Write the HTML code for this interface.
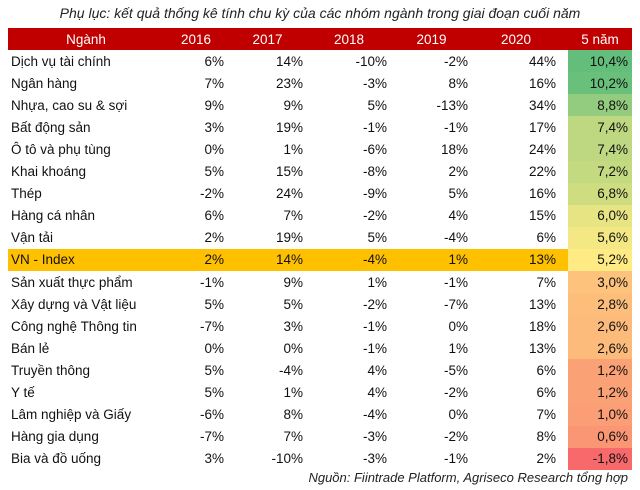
<!DOCTYPE html>
<html><head><meta charset="utf-8"><style>
body{margin:0;width:640px;height:490px;background:#fff;font-family:"Liberation Sans","DejaVu Sans",sans-serif;position:relative;overflow:hidden}
.title{position:absolute;top:5px;left:0;width:640px;text-align:center;font-style:italic;font-size:14px;color:#222}
table{position:absolute;top:28px;left:8px;border-collapse:collapse;font-size:13.5px;color:#111;table-layout:fixed;width:624px}
td{height:22.1px;padding:0 4px 0 0;text-align:right;white-space:nowrap;overflow:visible}
td:first-child{text-align:left;padding-left:3px}
tr.h td{background:#C00000;color:#fff;text-align:center;padding:0}
tr.vn td{background:#FFC000}
.src{position:absolute;top:470px;right:12px;font-style:italic;font-size:13px;color:#222}
</style></head><body>
<div class="title">Phụ lục: kết quả thống kê tính chu kỳ của các nhóm ngành trong giai đoạn cuối năm</div>
<table>
<colgroup><col style="width:156px"><col style="width:64px"><col style="width:79px"><col style="width:84px"><col style="width:81px"><col style="width:88px"><col style="width:8px"><col style="width:64px"></colgroup>
<tr class="h"><td style="text-align:center">Ngành</td><td>2016</td><td>2017</td><td>2018</td><td>2019</td><td>2020</td><td></td><td>5 năm</td></tr>
<tr><td>Dịch vụ tài chính</td><td>6%</td><td>14%</td><td>-10%</td><td>-2%</td><td>44%</td><td></td><td style="background:rgb(99,190,123)">10,4%</td></tr>
<tr><td>Ngân hàng</td><td>7%</td><td>23%</td><td>-3%</td><td>8%</td><td>16%</td><td></td><td style="background:rgb(105,192,123)">10,2%</td></tr>
<tr><td>Nhựa, cao su &amp; sợi</td><td>9%</td><td>9%</td><td>5%</td><td>-13%</td><td>34%</td><td></td><td style="background:rgb(147,204,126)">8,8%</td></tr>
<tr><td>Bất động sản</td><td>3%</td><td>19%</td><td>-1%</td><td>-1%</td><td>17%</td><td></td><td style="background:rgb(189,216,128)">7,4%</td></tr>
<tr><td>Ô tô và phụ tùng</td><td>0%</td><td>1%</td><td>-6%</td><td>18%</td><td>24%</td><td></td><td style="background:rgb(189,216,128)">7,4%</td></tr>
<tr><td>Khai khoáng</td><td>5%</td><td>15%</td><td>-8%</td><td>2%</td><td>22%</td><td></td><td style="background:rgb(195,218,129)">7,2%</td></tr>
<tr><td>Thép</td><td>-2%</td><td>24%</td><td>-9%</td><td>5%</td><td>16%</td><td></td><td style="background:rgb(207,221,129)">6,8%</td></tr>
<tr><td>Hàng cá nhân</td><td>6%</td><td>7%</td><td>-2%</td><td>4%</td><td>15%</td><td></td><td style="background:rgb(231,228,131)">6,0%</td></tr>
<tr><td>Vận tải</td><td>2%</td><td>19%</td><td>5%</td><td>-4%</td><td>6%</td><td></td><td style="background:rgb(243,232,132)">5,6%</td></tr>
<tr class="vn"><td>VN - Index</td><td>2%</td><td>14%</td><td>-4%</td><td>1%</td><td>13%</td><td></td><td style="background:rgb(255,235,132)">5,2%</td></tr>
<tr><td>Sản xuất thực phẩm</td><td>-1%</td><td>9%</td><td>1%</td><td>-1%</td><td>7%</td><td></td><td style="background:rgb(253,194,124)">3,0%</td></tr>
<tr><td>Xây dựng và Vật liệu</td><td>5%</td><td>5%</td><td>-2%</td><td>-7%</td><td>13%</td><td></td><td style="background:rgb(253,190,123)">2,8%</td></tr>
<tr><td>Công nghệ Thông tin</td><td>-7%</td><td>3%</td><td>-1%</td><td>0%</td><td>18%</td><td></td><td style="background:rgb(252,187,123)">2,6%</td></tr>
<tr><td>Bán lẻ</td><td>0%</td><td>0%</td><td>-1%</td><td>1%</td><td>13%</td><td></td><td style="background:rgb(252,187,123)">2,6%</td></tr>
<tr><td>Truyền thông</td><td>5%</td><td>-4%</td><td>4%</td><td>-5%</td><td>6%</td><td></td><td style="background:rgb(251,161,118)">1,2%</td></tr>
<tr><td>Y tế</td><td>5%</td><td>1%</td><td>4%</td><td>-2%</td><td>6%</td><td></td><td style="background:rgb(251,161,118)">1,2%</td></tr>
<tr><td>Lâm nghiệp và Giấy</td><td>-6%</td><td>8%</td><td>-4%</td><td>0%</td><td>7%</td><td></td><td style="background:rgb(251,157,117)">1,0%</td></tr>
<tr><td>Hàng gia dụng</td><td>-7%</td><td>7%</td><td>-3%</td><td>-2%</td><td>8%</td><td></td><td style="background:rgb(250,150,116)">0,6%</td></tr>
<tr><td>Bia và đồ uống</td><td>3%</td><td>-10%</td><td>-3%</td><td>-1%</td><td>2%</td><td></td><td style="background:rgb(248,105,107)">-1,8%</td></tr>
</table>
<div class="src">Nguồn: Fiintrade Platform, Agriseco Research tổng hợp</div>
</body></html>
